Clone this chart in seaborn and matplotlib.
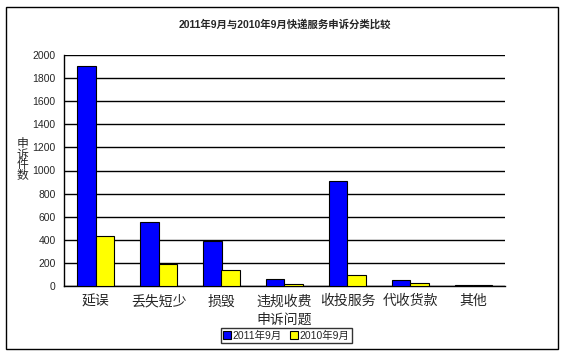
import pandas as pd
import matplotlib.pyplot as plt
import seaborn as sns
from matplotlib.patches import Rectangle

# complaint categories and counts (Sept 2011 vs Sept 2010)
categories = ["延误", "丢失短少", "损毁", "违规收费", "收投服务", "代收货款", "其他"]
sep_2011 = [1905, 551, 390, 61, 907, 52, 9]
sep_2010 = [430, 188, 137, 17, 92, 26, 6]
series = ["2011年9月", "2010年9月"]
y_ticks = [0, 200, 400, 600, 800, 1000, 1200, 1400, 1600, 1800, 2000]

sns.set_theme(style="white")
plt.rcParams['font.family'] = ['Liberation Sans', 'Noto Sans CJK SC']

df = pd.DataFrame({
    "问题": categories * 2,
    "件数": sep_2011 + sep_2010,
    "月份": [series[0]] * len(categories) + [series[1]] * len(categories),
})

W, H = 564, 356
fig = plt.figure(figsize=(W / 100, H / 100), dpi=100)
ax = fig.add_axes([64 / W, 1 - 286 / H, 441 / W, 231 / H])

sns.barplot(data=df, x="问题", y="件数", hue="月份", order=categories,
            hue_order=series, palette=["#0000FF", "#FFFF00"], saturation=1,
            width=0.575, edgecolor="black", linewidth=0.8, ax=ax, zorder=3)

ax.set_xlim(-0.5, len(categories) - 0.5)
ax.set_ylim(0, 2000)
ax.set_yticks(y_ticks)
ax.set_yticklabels([str(t) for t in y_ticks], fontsize=7.5)
ax.yaxis.grid(True, color="black", linewidth=1)
ax.set_axisbelow(True)

for side in ["top", "right"]:
    ax.spines[side].set_visible(False)
for side in ["left", "bottom"]:
    ax.spines[side].set_color("black")
    ax.spines[side].set_linewidth(1)

ax.tick_params(axis="y", direction="out", length=4, width=1, color="black", pad=2)
ax.set_xticks(range(len(categories)))
ax.set_xticklabels(categories, fontsize=10)
ax.tick_params(axis="x", which="major", length=0, pad=6)
ax.set_xticks([i + 0.5 for i in range(len(categories))], minor=True)
ax.tick_params(axis="x", which="minor", direction="in", length=4, width=1, color="black")

ax.set_xlabel("申诉问题", fontsize=10, labelpad=3)
ax.set_ylabel("申\n诉\n件\n数", fontsize=8.5, rotation=0, linespacing=0.85,
              ha="center", va="center")
ax.yaxis.set_label_coords(-0.095, 0.545)

ax.set_title("2011年9月与2010年9月快递服务申诉分类比较", fontsize=7.5,
             fontweight="bold", pad=20)

ax.legend_.remove()
handles, labels = ax.get_legend_handles_labels()
leg = fig.legend(handles, labels, loc="center", bbox_to_anchor=(286.5 / W, 1 - 335.5 / H),
                 ncol=2, fontsize=7.5, frameon=True, fancybox=False, edgecolor="black",
                 handlelength=0.7, handleheight=0.7, handletextpad=0.2,
                 columnspacing=0.8, borderpad=0.2, borderaxespad=0)
leg.get_frame().set_linewidth(1)

# outer chart border
fig.patches.append(Rectangle((6 / W, 1 - 349 / H), 552 / W, 342 / H,
                             transform=fig.transFigure, fill=False,
                             edgecolor="black", linewidth=1))

fig.savefig("out.png", dpi=100)
